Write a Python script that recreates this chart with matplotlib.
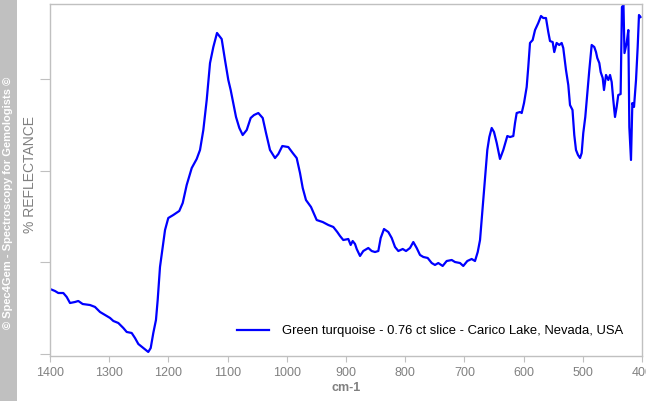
import numpy as np
import matplotlib
matplotlib.use("Agg")
import matplotlib.pyplot as plt
from matplotlib.patches import Rectangle

# wavenumber (cm-1) and relative reflectance
wavenumber = [
    1400, 1391.6, 1386, 1377.5, 1371.8, 1366.2, 1357.8, 1352.2, 1344.8, 1332.4,
    1324, 1315.5, 1307.1, 1298.6, 1293, 1284.6, 1276.2, 1270.4, 1262, 1256.4,
    1250.8, 1242.4, 1234, 1229.9, 1225.5, 1221, 1218.1, 1214.2, 1209.6, 1205.7,
    1200.2, 1191.7, 1181.6, 1175.8, 1169.1, 1160.6, 1152.2, 1146.6, 1141, 1135.3,
    1129.7, 1124.1, 1117.9, 1110, 1104.4, 1098.8, 1094.8, 1090.4, 1085.8, 1080.2,
    1074.5, 1067.7, 1061, 1055.4, 1048.1, 1040.7, 1035.1, 1028.4, 1019.9, 1014.3,
    1007.6, 997.5, 990, 983.3, 977.7, 973.1, 967.6, 959.1, 949.5, 939.3,
    929.9, 921.4, 914.7, 910.1, 904.6, 896.1, 892.1, 888.7, 884.8, 881.9,
    876.3, 870.8, 862.3, 856.6, 851, 845.4, 841.4, 835.8, 828.5, 822.8,
    817.2, 811.6, 804.2, 798.6, 791.9, 786.3, 780.6, 775, 769.4, 762,
    755.2, 749.7, 744.1, 736.7, 729.9, 721.4, 715.9, 707.4, 701.9, 695.1,
    687.7, 682.1, 677.5, 673.6, 669.1, 665.2, 661.3, 657.9, 653.9, 650,
    645.4, 639.9, 634.3, 627.5, 622.9, 617.4, 614.5, 611.7, 606.1, 603.2,
    599.3, 594.8, 592.1, 589.2, 584.7, 580.7, 575.2, 570.6, 566.7, 562.2,
    558.3, 555.4, 550.9, 548.2, 544.2, 539.8, 535.7, 533, 528.4, 524.5,
    521.6, 517.4, 514.4, 511.5, 508.1, 504.7, 501.9, 499.2, 495.8, 492.4,
    489, 485, 480.6, 477.7, 475.5, 472.1, 469.8, 466.4, 464.2, 460.8,
    456.9, 454, 451.2, 448.5, 445.6, 442.8, 440.1, 436.1, 433.9, 431.3,
    429.6, 425.9, 423.1, 421.4, 418.6, 416.3, 413.5, 410.1, 407.3, 405.1,
    402.5,
]
reflectance = [
    0.709, 0.687, 0.665, 0.665, 0.622, 0.556, 0.567, 0.578, 0.545, 0.534,
    0.513, 0.458, 0.425, 0.393, 0.360, 0.338, 0.284, 0.240, 0.229, 0.174,
    0.109, 0.065, 0.022, 0.065, 0.229, 0.371, 0.589, 0.949, 1.167, 1.352,
    1.483, 1.516, 1.560, 1.647, 1.843, 2.028, 2.127, 2.225, 2.443, 2.770,
    3.173, 3.348, 3.501, 3.435, 3.206, 2.988, 2.879, 2.737, 2.585, 2.465,
    2.388, 2.443, 2.574, 2.606, 2.628, 2.574, 2.410, 2.225, 2.137, 2.181,
    2.268, 2.257, 2.192, 2.137, 1.974, 1.810, 1.679, 1.603, 1.461, 1.439,
    1.407, 1.385, 1.330, 1.287, 1.243, 1.254, 1.189, 1.232, 1.200, 1.145,
    1.069, 1.123, 1.156, 1.123, 1.112, 1.123, 1.265, 1.363, 1.330, 1.265,
    1.167, 1.123, 1.145, 1.123, 1.156, 1.221, 1.156, 1.080, 1.058, 1.047,
    0.992, 0.971, 0.992, 0.960, 1.014, 1.025, 1.003, 0.992, 0.960, 1.014,
    1.036, 1.014, 1.112, 1.243, 1.603, 1.930, 2.225, 2.366, 2.465, 2.421,
    2.301, 2.127, 2.225, 2.377, 2.366, 2.377, 2.519, 2.628, 2.639, 2.628,
    2.737, 2.912, 3.130, 3.392, 3.424, 3.533, 3.610, 3.686, 3.664, 3.664,
    3.511, 3.413, 3.402, 3.293, 3.392, 3.370, 3.392, 3.337, 3.097, 2.933,
    2.715, 2.661, 2.388, 2.225, 2.170, 2.137, 2.192, 2.410, 2.585, 2.846,
    3.097, 3.370, 3.348, 3.293, 3.228, 3.173, 3.075, 3.010, 2.879, 3.043,
    2.988, 3.043, 2.966, 2.770, 2.585, 2.694, 2.824, 2.835, 3.784, 3.806,
    3.282, 3.392, 3.533, 2.475, 2.116, 2.737, 2.694, 2.988, 3.348, 3.697,
    3.675,
]
x_ticks = [1400, 1300, 1200, 1100, 1000, 900, 800, 700, 600, 500, 400]
label = "Green turquoise - 0.76 ct slice - Carico Lake, Nevada, USA"

plt.rcParams["font.family"] = ["Liberation Sans", "DejaVu Sans"]
grey = "#808080"
spine_grey = "#c0c0c0"

fig = plt.figure(figsize=(6.46, 4.01), dpi=100)
ax = fig.add_axes([50 / 646, 1 - 356 / 401, 592 / 646, 352 / 401])

ax.plot(wavenumber, reflectance, color="#0000ff", linewidth=1.6, label=label)

ax.set_xlim(1400, 400)
ax.set_ylim(-0.022, 3.817)
ax.set_xticks(x_ticks)
ax.set_xticklabels([str(t) for t in x_ticks])
ax.set_yticks([0, 1, 2, 3])
ax.set_yticklabels([])

for s in ax.spines.values():
    s.set_color(spine_grey)
    s.set_linewidth(1.0)
ax.tick_params(axis="x", colors=spine_grey, labelcolor=grey, labelsize=9,
               length=4, pad=4)
ax.tick_params(axis="y", colors=spine_grey, length=7)

ax.set_xlabel("cm-1", color=grey, fontsize=9, fontweight="bold", labelpad=2)

# y label placed by hand
fig.text(30 / 646, 1 - 174 / 401, "% REFLECTANCE", rotation=90, color=grey,
         fontsize=10, ha="center", va="center")

# grey copyright strip at left
fig.patches.append(Rectangle((0, 0), 17 / 646, 1, transform=fig.transFigure,
                             facecolor="#c0c0c0", edgecolor="none"))
fig.text(8.5 / 646, 1 - 203 / 401,
         "\u00a9 Spec4Gem - Spectroscopy for Gemologists \u00a9",
         rotation=90, color="white", fontsize=8, fontweight="bold",
         ha="center", va="center")

ax.legend(loc="center right", bbox_to_anchor=(623 / 646, 1 - 331 / 401),
          bbox_transform=fig.transFigure, frameon=False, fontsize=9.4,
          handlelength=2.4, handletextpad=1.0, borderpad=0, borderaxespad=0)

plt.savefig("out.png", dpi=100)
